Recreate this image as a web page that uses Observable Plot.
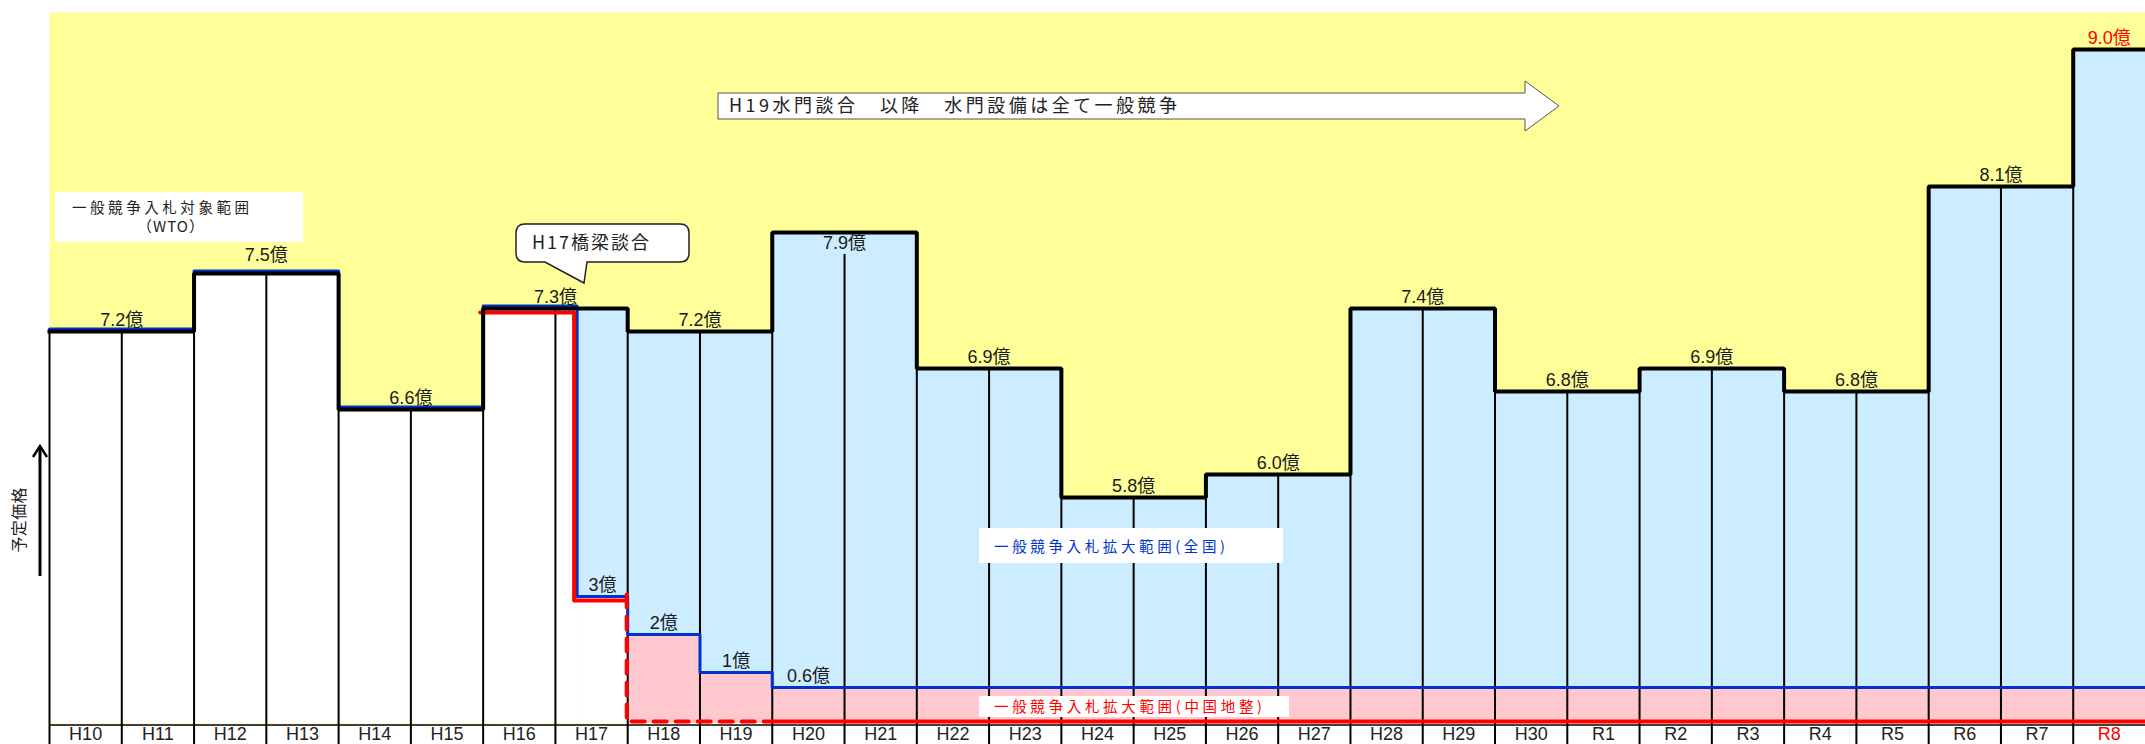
<!DOCTYPE html>
<html>
<head>
<meta charset="utf-8">
<script src="https://cdn.jsdelivr.net/npm/d3@7"></script>
<script src="https://cdn.jsdelivr.net/npm/@observablehq/plot@0.6"></script>
<style>
html, body { margin: 0; padding: 0; background: #fff; }
#chart { width: 2145px; height: 744px; overflow: hidden; }
svg { display: block; }
g[aria-label="xlabels"] text { letter-spacing: 3px; }
g[aria-label="vlabels"] text { letter-spacing: 0.5px; }
</style>
</head>
<body>
<div id="chart"></div>
<script>
// ---- data ----
const years = ["H10","H11","H12","H13","H14","H15","H16","H17","H18","H19","H20","H21","H22","H23","H24","H25","H26","H27","H28","H29","H30","R1","R2","R3","R4","R5","R6","R7","R8"];
// 予定価格 (億円)
const price = [7.2,7.2,7.5,7.5,6.6,6.6,7.3,7.3,7.2,7.2,7.9,7.9,6.9,6.9,5.8,5.8,6.0,6.0,7.4,7.4,6.8,6.8,6.9,6.9,6.8,6.8,8.1,8.1,9.0];
// 一般競争入札の下限 (全国): step starts (year index; 7.3 = during H17) and level (億)
const nationalStart = [0, 2, 4, 6, 7.3, 8, 9, 10];
const nationalLevel = [7.2, 7.5, 6.6, 7.3, 3, 2, 1, 0.6];
// 一般競争入札の下限 (中国地整)
const regionalStart = [6, 7.3, 8];
const regionalLevel = [7.3, 3, 0];
const regionalDashedUntil = 10; // dashed until H20

// ---- schematic (non-proportional) value scale of the original figure ----
const yDomain = [-0.35, 0, 0.6, 1, 2, 3, 5.8, 6.0, 6.6, 6.8, 6.9, 7.2, 7.3, 7.4, 7.5, 7.9, 8.1, 9.0, 9.24];
const yRange  = [744, 723, 687, 672, 634, 596, 497, 474, 409, 391, 368, 331, 308, 308, 273, 232, 186, 49, 12];
const yPix = d3.scaleLinear(yDomain, yRange);
const nudgeY = (v, px) => yPix.invert(yPix(v) + px);

// label placement (style)
const labelNudge = {"7.5億": -18, "7.9億": 11};

const FONT = "'Liberation Sans', 'Noto Sans CJK JP', sans-serif";
const JFONT = "'Noto Sans CJK JP', sans-serif";
const YELLOW = "#FFFF99", LBLUE = "#CCECFF", PINK = "#FFC7CE", BLUE = "#0033CC", RED = "#FF0000";

const n = years.length;
const cols = years.map((name, i) => ({name, i, v: price[i]}));

const stepAt = (starts, levels, x) => { let v = null; starts.forEach((s, k) => { if (s <= x) v = levels[k]; }); return v; };
const cuts = Array.from(new Set([...d3.range(0, n + 1), ...nationalStart, ...regionalStart])).sort((a, b) => a - b);
const segs = [];
for (let k = 0; k < cuts.length - 1; k++) {
  const a = cuts[k], b = cuts[k + 1];
  segs.push({a, b, p: price[Math.floor(a)], nat: stepAt(nationalStart, nationalLevel, a), reg: stepAt(regionalStart, regionalLevel, a)});
}

// price labels: one per pair of years
const priceLabels = [];
for (let i = 0; i < n; i += 2) {
  const span = Math.min(2, n - i);
  const text = `${price[i].toFixed(1)}億`;
  const nudge = labelNudge[text] ?? -11;
  priceLabels.push({x: i + span / 2, v: price[i], text, nudge, last: i + span === n});
}

// vertical column separators
const bounds = d3.range(0, n).map(i => ({x: i, top: i === 0 ? price[0] : Math.min(price[i - 1], price[i])}));
priceLabels.filter(d => d.nudge > 0 && Number.isInteger(d.x)).forEach(d => {
  bounds[d.x].top = nudgeY(d.v, d.nudge + 11);
});

// threshold labels
const limitLabels = nationalStart.map((s, k) => ({s, k})).filter(({k}) => nationalLevel[k] < price[Math.floor(nationalStart[k])])
  .map(({s, k}) => {
    const next = k + 1 < nationalStart.length ? nationalStart[k + 1] : n;
    return {x: Math.min((s + next) / 2, s + 0.5), v: nationalLevel[k], text: `${nationalLevel[k]}億`};
  });

// line point sets
const stepPts = cols.map(d => ({x: d.i, v: d.v})).concat([{x: n, v: price[n - 1]}]);
const splitK = nationalStart.findIndex((s, k) => nationalLevel[k] < price[Math.floor(s)]);
const natTop = nationalStart.slice(0, splitK).map((s, k) => ({x: s, v: nationalLevel[k]})).concat([{x: nationalStart[splitK], v: nationalLevel[splitK - 1]}]);
const natLow = [{x: nationalStart[splitK], v: nationalLevel[splitK - 1]}]
  .concat(nationalStart.slice(splitK).map((s, j) => ({x: s, v: nationalLevel[splitK + j]})))
  .concat([{x: n, v: nationalLevel[nationalLevel.length - 1]}]);
const zeroK = regionalLevel.indexOf(0);
const regUpper = regionalStart.slice(0, zeroK).map((s, k) => ({x: s, v: regionalLevel[k]})).concat([{x: regionalStart[zeroK], v: regionalLevel[zeroK - 1]}]);
const regDashed = [{x: regionalStart[zeroK], v: regionalLevel[zeroK - 1]}, {x: regionalStart[zeroK], v: 0}, {x: regionalDashedUntil, v: 0}];
const regSolid = [{x: regionalDashedUntil, v: 0}, {x: n, v: 0}];

const plot = Plot.plot({
  width: 2145,
  height: 744,
  marginLeft: 49,
  marginRight: 0,
  marginTop: 12,
  marginBottom: 21,
  style: {fontFamily: FONT, background: "white", overflow: "visible"},
  x: {type: "linear", domain: [0, n], axis: null},
  y: {type: "linear", domain: yDomain, range: yRange, axis: null},
  marks: [
    Plot.frame({fill: YELLOW, stroke: "none"}),
    Plot.rect(segs.filter(s => s.reg !== 0), {x1: "a", x2: "b", y1: 0, y2: "p", fill: "white"}),
    Plot.rect(segs.filter(s => s.nat < s.p), {x1: "a", x2: "b", y1: "nat", y2: "p", fill: LBLUE}),
    Plot.rect(segs.filter(s => s.reg !== null && s.reg < s.nat), {x1: "a", x2: "b", y1: "reg", y2: "nat", fill: PINK}),
    Plot.ruleX(bounds, {x: "x", y1: yDomain[0], y2: "top", stroke: "black", strokeWidth: 2}),
    Plot.ruleY([0], {stroke: "black", strokeWidth: 1.5, dy: 1.5}),
    Plot.line(natTop, {x: "x", y: "v", curve: "step-after", stroke: BLUE, strokeWidth: 3, dy: -2.5}),
    Plot.line(natLow, {x: "x", y: "v", curve: "step-after", stroke: BLUE, strokeWidth: 3}),
    Plot.line(regUpper, {x: "x", y: "v", curve: "step-after", stroke: RED, strokeWidth: 4, dx: -3, dy: 4}),
    Plot.line(regDashed, {x: "x", y: "v", curve: "linear", stroke: RED, strokeWidth: 4, dx: -1, dy: -2, strokeDasharray: "13,9"}),
    Plot.line(regSolid, {x: "x", y: "v", stroke: RED, strokeWidth: 4, dy: -2}),
    Plot.line(stepPts, {x: "x", y: "v", curve: "step-after", stroke: "black", strokeWidth: 4, strokeLinecap: "square", strokeLinejoin: "miter"}),
    Plot.text(priceLabels, {filter: d => !d.last, x: "x", y: d => nudgeY(d.v, d.nudge), text: "text", fontSize: 18, fill: "#1a1a1a", ariaLabel: "vlabels"}),
    Plot.text(priceLabels, {filter: d => d.last, x: "x", y: d => nudgeY(d.v, d.nudge), text: "text", fontSize: 18, fill: RED, ariaLabel: "vlabels"}),
    Plot.text(limitLabels, {x: "x", y: d => nudgeY(d.v, -11), text: "text", fontSize: 18, fill: "#1a1a1a", ariaLabel: "vlabels"}),
    Plot.text(cols.filter(d => d.i < n - 1), {x: d => d.i + 0.5, y: 0, dy: 11, text: "name", fontSize: 18, fill: "#222", ariaLabel: "xlabels"}),
    Plot.text(cols.filter(d => d.i === n - 1), {x: d => d.i + 0.5, y: 0, dy: 11, text: "name", fontSize: 18, fill: RED, ariaLabel: "xlabels"})
  ]
});

document.getElementById("chart").appendChild(plot);

// ---- annotations ----
const svg = d3.select(plot);
const g = svg.append("g").attr("font-family", JFONT).attr("text-anchor", "start");

// WTO box
g.append("rect").attr("x", 55).attr("y", 192).attr("width", 248).attr("height", 50).attr("fill", "white");
g.append("text").attr("x", 72).attr("y", 208).attr("dy", "0.35em").attr("font-size", 14.5).attr("fill", "#222")
  .attr("text-anchor", "start").attr("textLength", 177).attr("lengthAdjust", "spacing").text("一般競争入札対象範囲");
g.append("text").attr("x", 171).attr("y", 227).attr("dy", "0.35em").attr("font-size", 15).attr("fill", "#222")
  .attr("text-anchor", "middle").attr("letter-spacing", 1).text("（WTO）");

// H17 callout
{
  const x0 = 516, x1 = 689, y0 = 224, y1 = 262, r = 9;
  const path = `M${x0 + r},${y0} H${x1 - r} Q${x1},${y0} ${x1},${y0 + r} V${y1 - r} Q${x1},${y1} ${x1 - r},${y1}
    H587 L584,283 L545,${y1} H${x0 + r} Q${x0},${y1} ${x0},${y1 - r} V${y0 + r} Q${x0},${y0} ${x0 + r},${y0} Z`;
  g.append("path").attr("d", path).attr("fill", "white").attr("stroke", "#222").attr("stroke-width", 1.5);
  g.append("text").attr("x", 532).attr("y", 243).attr("dy", "0.35em").attr("font-size", 18).attr("fill", "#222")
    .attr("text-anchor", "start").attr("letter-spacing", 2).text("H17橋梁談合");
}

// arrow
g.append("path").attr("d", "M718,93 H1525 V81 L1559,106 L1525,131 V119 H718 Z")
  .attr("fill", "white").attr("stroke", "#555").attr("stroke-width", 1);
g.append("text").attr("x", 729).attr("y", 106).attr("dy", "0.35em").attr("font-size", 18).attr("fill", "#222")
  .attr("text-anchor", "start").attr("textLength", 448).attr("lengthAdjust", "spacing").text("H19水門談合　以降　水門設備は全て一般競争");

// nationwide box
g.append("rect").attr("x", 979).attr("y", 528).attr("width", 304).attr("height", 35).attr("fill", "white");
g.append("text").attr("x", 994).attr("y", 547).attr("dy", "0.35em").attr("font-size", 14.5).attr("fill", BLUE)
  .attr("text-anchor", "start").attr("textLength", 231).attr("lengthAdjust", "spacing").text("一般競争入札拡大範囲(全国)");

// regional box
g.append("rect").attr("x", 979).attr("y", 696).attr("width", 310).attr("height", 21).attr("fill", "white");
g.append("text").attr("x", 994).attr("y", 707).attr("dy", "0.35em").attr("font-size", 14.5).attr("fill", RED)
  .attr("text-anchor", "start").attr("textLength", 268).attr("lengthAdjust", "spacing").text("一般競争入札拡大範囲(中国地整)");

// y-axis title and arrow
g.append("text").attr("transform", "translate(19,520) rotate(-90)").attr("text-anchor", "middle").attr("dy", "0.35em")
  .attr("font-size", 16).attr("fill", "#222").attr("textLength", 65).attr("lengthAdjust", "spacing").text("予定価格");
g.append("line").attr("x1", 40).attr("x2", 40).attr("y1", 576).attr("y2", 447).attr("stroke", "black").attr("stroke-width", 3);
g.append("path").attr("d", "M33,457 L40,446 L47,457").attr("fill", "none").attr("stroke", "black").attr("stroke-width", 2.5);
</script>
</body>
</html>
